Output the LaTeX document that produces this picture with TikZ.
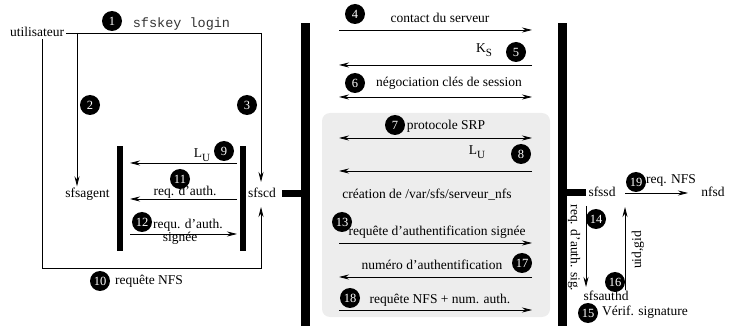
\documentclass[tikz,border=0pt]{standalone}
\usepackage{fontspec}
\setmainfont{Liberation Serif}
\setmonofont{Liberation Mono}
\usetikzlibrary{arrows.meta}
\newcommand{\subU}[1]{\raisebox{-4pt}{\fontsize{11}{11}\selectfont #1}}
\begin{document}
\begin{tikzpicture}[x=1pt,y=-1pt,
 num/.style={circle,fill=black,text=white,inner sep=0pt,minimum size=20pt,font=\fontsize{12.5}{12.5}\selectfont},
 lbl/.style={inner sep=0pt,anchor=base,font=\fontsize{13.5}{15}\selectfont},
 bar/.style={fill=black,inner sep=0pt,draw=none},
 ln/.style={line width=0.8pt},
 arr/.style={ln,-{Stealth[length=10pt,width=5pt]}},
 darr/.style={ln,{Stealth[length=10pt,width=5pt]}-{Stealth[length=10pt,width=5pt]}}]
\useasboundingbox (0,0) rectangle (732,326);

% grey session box
\node[fill=black!7,rounded corners=8pt,minimum width=228pt,minimum height=204pt,inner sep=0pt] (sess) at (436,215) {};

% bars
\node[bar,minimum width=6pt,minimum height=105pt] (barA) at (120,198.5) {};
\node[bar,minimum width=6pt,minimum height=105pt] (barB) at (242.5,198.5) {};
\node[bar,minimum width=9pt,minimum height=303pt] (bigL) at (305.5,174.5) {};
\node[bar,minimum width=9pt,minimum height=303pt] (bigR) at (562.5,174.5) {};
\node[bar,minimum width=20pt,minimum height=7pt] (stubL) at (292,193.5) {};
\node[bar,minimum width=19pt,minimum height=7pt] (stubR) at (576,192.5) {};

% left part labels
\node[lbl,inner sep=2pt] (user) at (37,37) {utilisateur};
\node[lbl,text=black!80] (cmd) at (181.5,28) {\ttfamily sfskey login};
\node[lbl,inner sep=2pt] (agent) at (87.5,198) {sfsagent};
\node[lbl,inner sep=2pt] (sfscd) at (262,198) {sfscd};
\node[num] (n1) at (112,21) {1};
\node[num] (n2) at (90,105) {2};
\node[num] (n3) at (247,105) {3};
\node[num] (n9) at (224,151) {9};
\node[lbl] (lu9) at (202,158) {L\subU{U}};
\node[num] (n11) at (180,179) {11};
\node[lbl] (t11) at (185,196) {req. d’auth.};
\node[num] (n12) at (142,222) {12};
\node[lbl] (t12) at (188,229) {requ. d’auth.};
\node[lbl] (t12b) at (180,242) {signée};
\node[num] (n10) at (100,281) {10};
\node[lbl] (t10) at (149,285) {requête NFS};

% left part connectors
\coordinate (c1) at (261,33);
\coordinate (c2) at (77,33);
\coordinate (c3) at (42,268);
\coordinate (c4) at (261,268);
\draw[ln] (user.east |- c1) -- (c1);
\draw[arr] (c2) -- (c2 |- agent.north);
\draw[arr] (c1) -- (c1 |- 0,182);
\draw[arr] (c3 |- user.south) -- (c3) -- (c4) -- (c4 |- 0,207);

\coordinate (bA) at (130,0);
\coordinate (bB) at (237,0);
\draw[arr] (bB |- 0,163) -- (bA |- 0,163);
\draw[arr] (bB |- 0,199) -- (bA |- 0,199);
\draw[arr] (bA |- 0,234) -- (bB |- 0,234);

% middle arrows
\coordinate (xL) at (339,0);
\coordinate (xR) at (532,0);
\node[num] (n4) at (355,14) {4};
\node[lbl] (t4) at (440,23) {contact du serveur};
\draw[arr] (xL |- 0,30) -- (xR |- 0,30);
\node[lbl] (ks) at (484,53) {K\subU{S}};
\node[num] (n5) at (516,52) {5};
\draw[arr] (xR |- 0,65) -- (xL |- 0,65);
\node[num] (n6) at (355,83) {6};
\node[lbl] (t6) at (449,87) {négociation clés de session};
\draw[darr] (xL |- 0,97) -- (xR |- 0,97);
\node[num] (n7) at (395,125) {7};
\node[lbl] (t7) at (446,129.5) {protocole SRP};
\draw[darr] (xL |- 0,138) -- (xR |- 0,138);
\node[lbl] (lu8) at (477,155) {L\subU{U}};
\node[num] (n8) at (521,154) {8};
\draw[arr] (xR |- 0,171) -- (xL |- 0,171);
\node[lbl] (tcr) at (427,199) {création de /var/sfs/serveur\_nfs};
\node[num] (n13) at (342,222) {13};
\node[lbl] (t13) at (437,236) {requête d’authentification signée};
\draw[arr] (xL |- 0,243) -- (xR |- 0,243);
\node[lbl] (t17) at (432,270) {numéro d’authentification};
\node[num] (n17) at (522,263) {17};
\draw[arr] (xR |- 0,277) -- (xL |- 0,277);
\node[num] (n18) at (350,298) {18};
\node[lbl] (t18) at (440,303) {requête NFS + num. auth.};
\draw[arr] (xL |- 0,310) -- (xR |- 0,310);

% right part
\node[lbl,inner sep=2pt] (sfssd) at (602,197) {sfssd};
\node[lbl,inner sep=2pt] (nfsd) at (713,197) {nfsd};
\node[num] (n19) at (636,182) {19};
\node[lbl] (t19) at (671,184) {req. NFS};
\coordinate (a19s) at (625,193);
\coordinate (a19e) at (688,193);
\draw[arr] (a19s) -- (a19e);
\node[lbl,inner sep=2pt] (authd) at (606,301) {sfsauthd};
\coordinate (a14s) at (586,206);
\coordinate (a14e) at (586,287);
\draw[arr] (a14s) -- (a14e);
\node[num] (n14) at (596,219) {14};
\node[inner sep=0pt,rotate=-90,font=\fontsize{13.5}{15}\selectfont] (t14) at (574,248) {req. d’auth. sig.};
\coordinate (a16s) at (625,290);
\coordinate (a16e) at (625,207);
\draw[arr] (a16s) -- (a16e);
\node[inner sep=0pt,rotate=90,font=\fontsize{13.5}{15}\selectfont] (t16) at (638,250) {uid,gid};
\node[num] (n16) at (615,282) {16};
\node[num] (n15) at (588,313) {15};
\node[lbl] (t15) at (645,316) {Vérif. signature};
\end{tikzpicture}
\end{document}
